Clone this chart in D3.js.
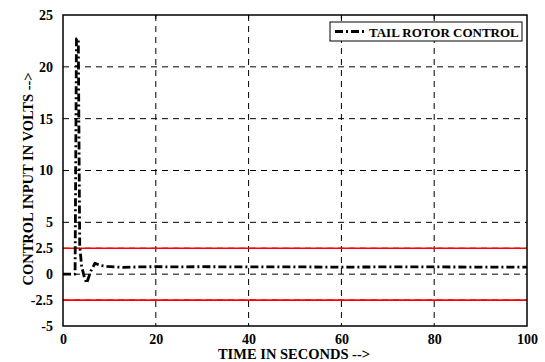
<!DOCTYPE html>
<html>
<head>
<meta charset="utf-8">
<script src="https://cdn.jsdelivr.net/npm/d3@7"></script>
<style>
  html, body { margin: 0; padding: 0; background: #fff; }
  svg text { font-family: "Liberation Serif", "Times New Roman", Times, serif; font-weight: bold; fill: #000; }
</style>
</head>
<body>
<svg id="chart" width="545" height="362"></svg>
<script>
// Tail rotor control input over time
const timeSec = [0, 2.6, 2.9, 3.3, 3.6, 4.0, 4.6, 5.1, 6.0, 6.9, 8.0, 9.5, 11, 13, 16, 20, 25, 30, 40, 50, 60, 70, 80, 90, 100];
const controlVolts = [0, 0, 22.7, 22.7, 2.8, 0.8, -0.3, -0.87, 0.3, 1.05, 0.85, 0.75, 0.7, 0.65, 0.7, 0.72, 0.7, 0.72, 0.7, 0.7, 0.68, 0.7, 0.7, 0.68, 0.68];
const xTicks = [0, 20, 40, 60, 80, 100];
const yTicks = [-5, -2.5, 0, 2.5, 5, 10, 15, 20, 25];
const xGrid = [20, 40, 60, 80];
const yGrid = [-2.5, 0, 2.5, 5, 10, 15, 20];
const limits = [2.5, -2.5];
const seriesName = "TAIL ROTOR CONTROL";

const svg = d3.select("#chart");
const m = { left: 63, right: 527, top: 15, bottom: 326 };
const x = d3.scaleLinear().domain([0, 100]).range([m.left, m.right]);
const y = d3.scaleLinear().domain([-5, 25]).range([m.bottom, m.top]);
const dashDot = "8,3,2,3";

// dashed grid
svg.append("g").selectAll("line").data(xGrid).join("line")
  .attr("x1", d => x(d)).attr("x2", d => x(d))
  .attr("y1", m.top).attr("y2", m.bottom)
  .attr("stroke", "#000").attr("stroke-width", 1).attr("stroke-dasharray", "6,5");
svg.append("g").selectAll("line").data(yGrid).join("line")
  .attr("x1", m.left).attr("x2", m.right)
  .attr("y1", d => y(d)).attr("y2", d => y(d))
  .attr("stroke", "#000").attr("stroke-width", 1).attr("stroke-dasharray", "6,5");

// limit lines
svg.append("g").selectAll("line").data(limits).join("line")
  .attr("x1", m.left).attr("x2", m.right)
  .attr("y1", d => y(d)).attr("y2", d => y(d))
  .attr("stroke", "#ff0000").attr("stroke-width", 1.6);

// signal
const line = d3.line().x((d, i) => x(timeSec[i])).y(d => y(d));
svg.append("path").datum(controlVolts)
  .attr("d", line)
  .attr("fill", "none").attr("stroke", "#000")
  .attr("stroke-width", 2.8)
  .attr("stroke-linejoin", "round")
  .attr("stroke-dasharray", dashDot);

// axes
const xAxis = d3.axisBottom(x).tickValues(xTicks).tickSize(0).tickPadding(8).tickFormat(d3.format("d"));
const yAxis = d3.axisLeft(y).tickValues(yTicks).tickSize(0).tickPadding(10).tickFormat(d => String(d));
const gx = svg.append("g").attr("transform", `translate(0,${m.bottom})`).call(xAxis);
const gy = svg.append("g").attr("transform", `translate(${m.left},0)`).call(yAxis);
[gx, gy].forEach(g => {
  g.attr("font-family", null).attr("font-size", null);
  g.select(".domain").remove();
  g.selectAll("text").style("font-size", "14px").attr("fill", "#000");
});

// inner tick marks along the top edge
svg.append("g").selectAll("line").data(xGrid).join("line")
  .attr("x1", d => x(d)).attr("x2", d => x(d))
  .attr("y1", m.top).attr("y2", m.top + 4).attr("stroke", "#000").attr("stroke-width", 1);

// frame
svg.append("rect").attr("x", m.left).attr("y", m.top)
  .attr("width", m.right - m.left).attr("height", m.bottom - m.top)
  .attr("fill", "none").attr("stroke", "#000").attr("stroke-width", 1.5);

// legend
const lg = svg.append("g");
lg.append("rect").attr("x", 330).attr("y", 22).attr("width", 192).attr("height", 19)
  .attr("fill", "#fff").attr("stroke", "#000").attr("stroke-width", 1);
lg.append("line").attr("x1", 335).attr("x2", 364).attr("y1", 31.5).attr("y2", 31.5)
  .attr("stroke", "#000").attr("stroke-width", 2.8).attr("stroke-dasharray", dashDot);
lg.append("text").attr("x", 369).attr("y", 36.5).style("font-size", "13px").text(seriesName);

// axis titles
svg.append("text").attr("x", 294).attr("y", 359)
  .attr("text-anchor", "middle").style("font-size", "14.5px").text("TIME IN SECONDS -->");
svg.append("text").attr("transform", `translate(33,179) rotate(-90)`)
  .attr("text-anchor", "middle").style("font-size", "14.5px").text("CONTROL INPUT  IN VOLTS -->");
</script>
</body>
</html>
